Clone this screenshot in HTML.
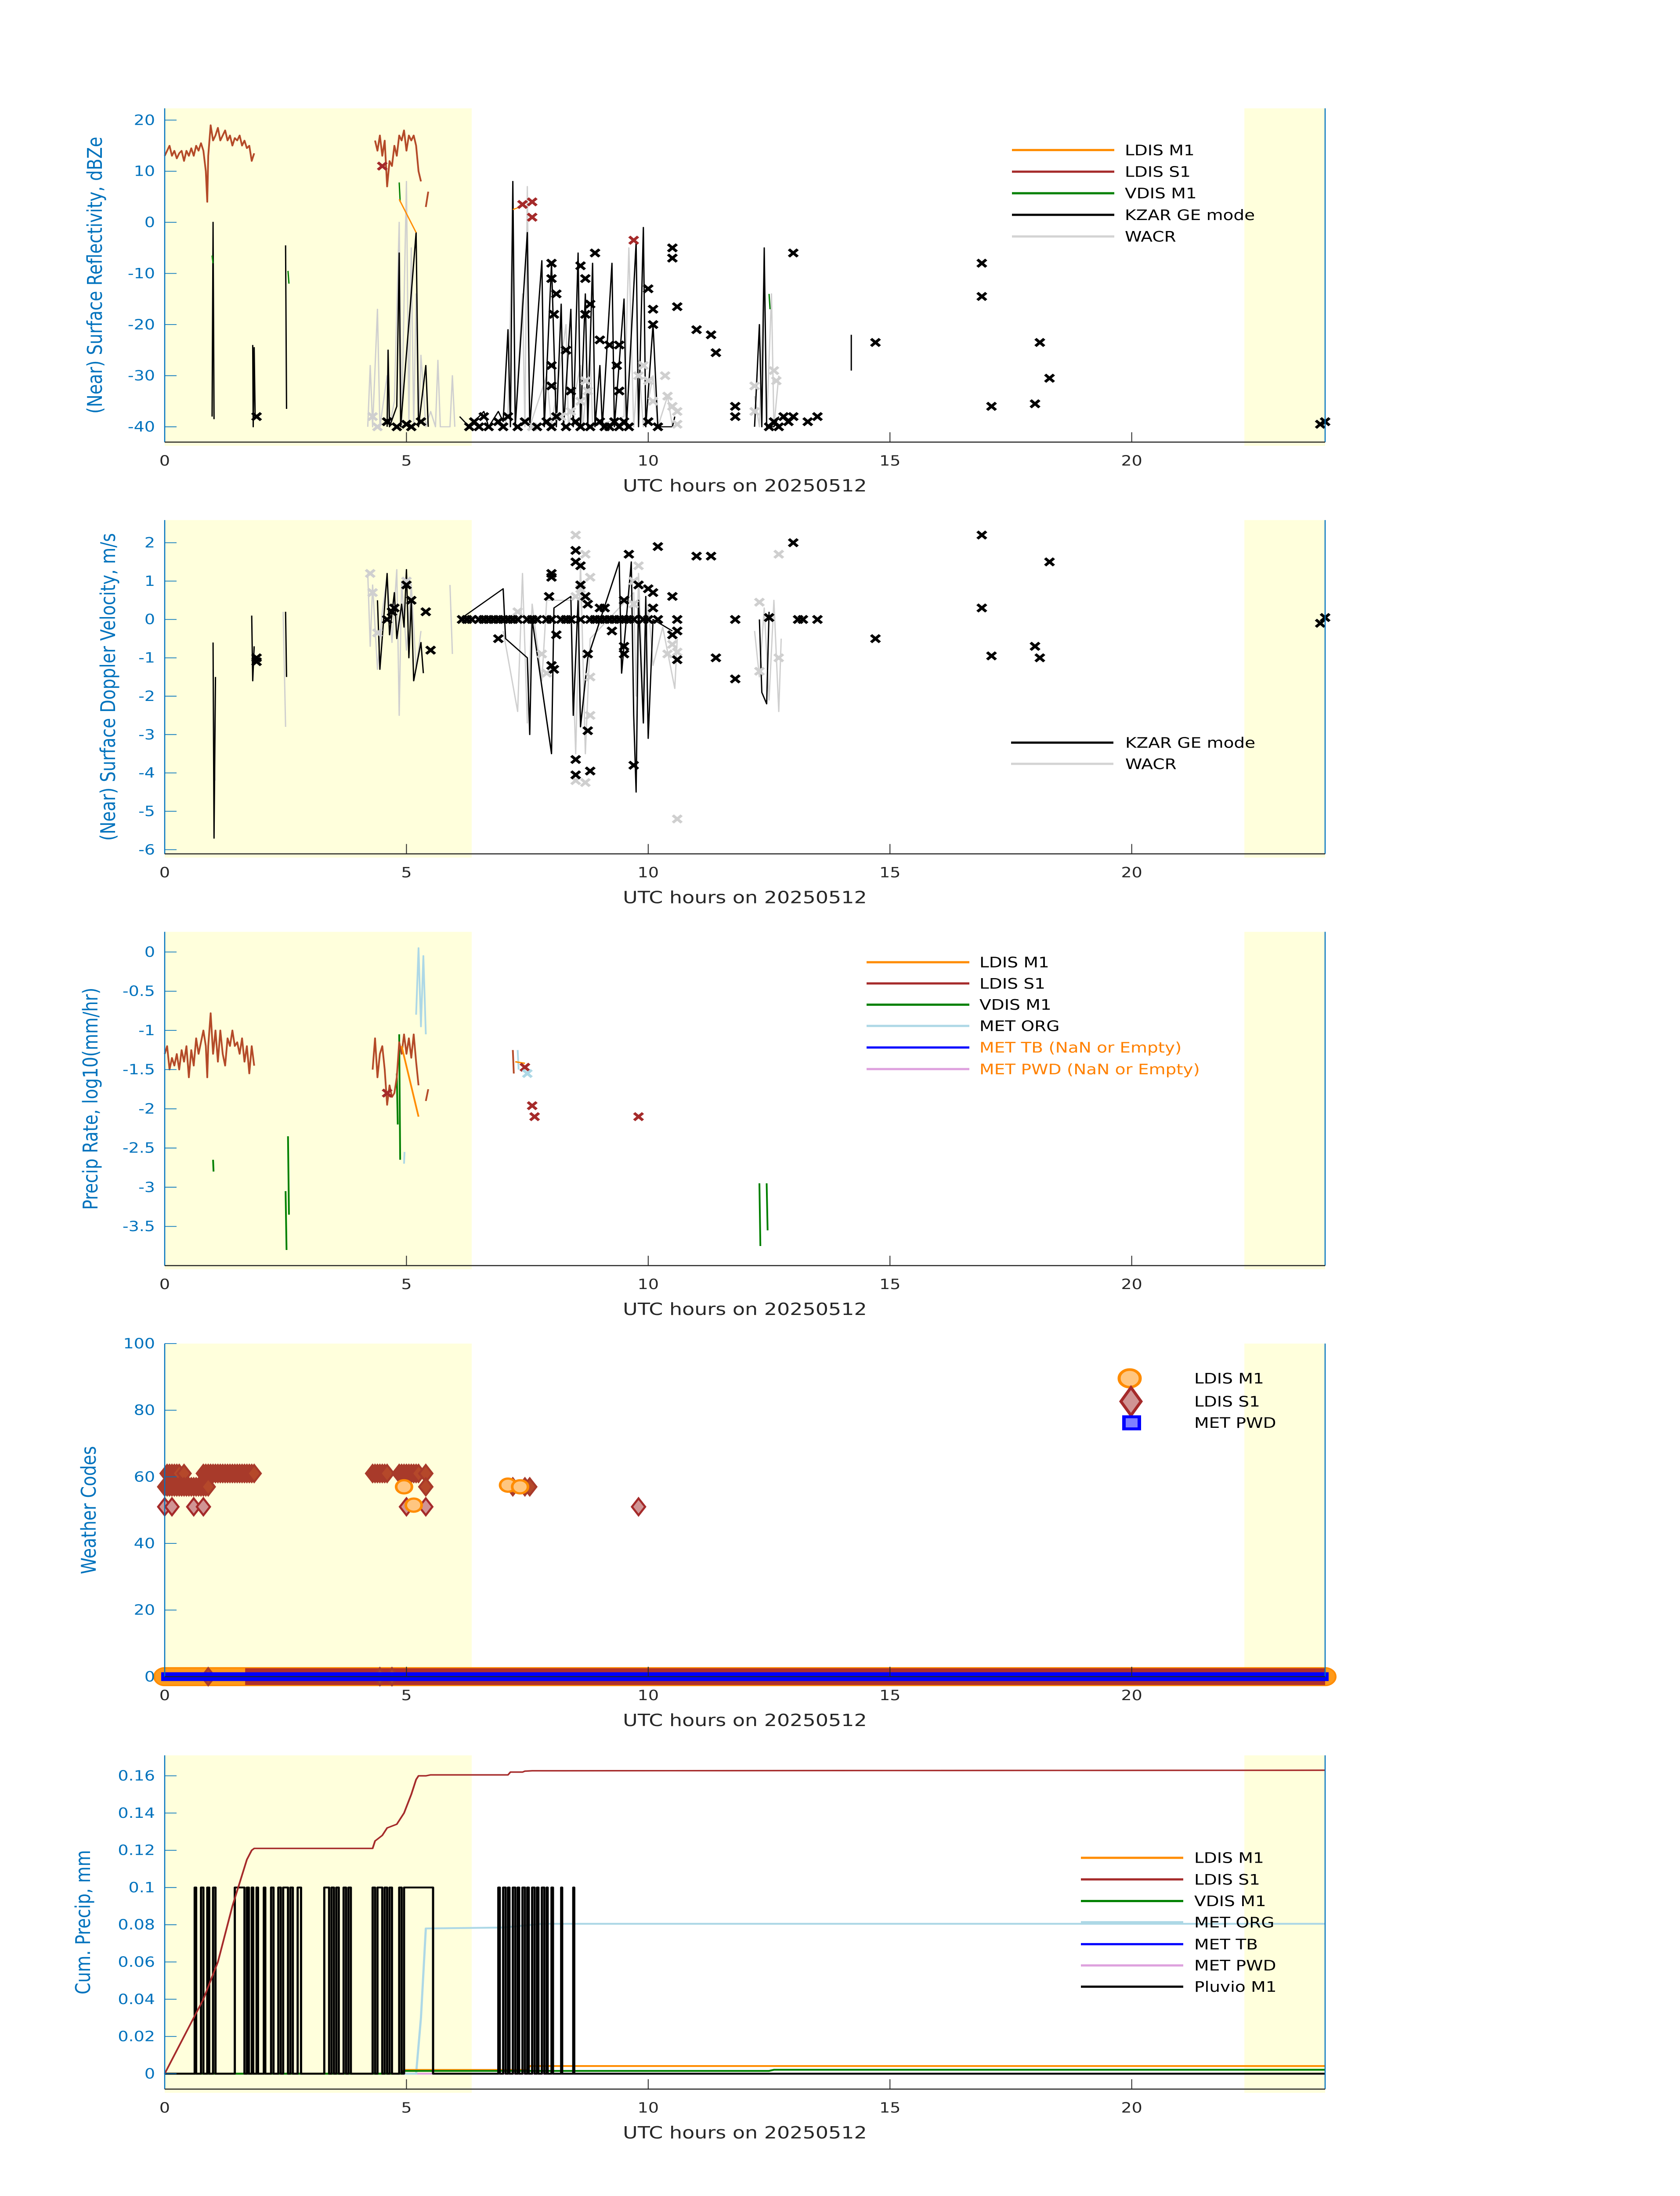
<!DOCTYPE html>
<html><head><meta charset="utf-8"><title>Surface precip summary 20250512</title>
<style>
html,body{margin:0;padding:0;background:#fff;width:100vw;height:100vh;overflow:hidden;}
svg{display:block;position:absolute;left:0;top:0;width:100vw;height:100vh;font-family:"DejaVu Sans","Liberation Sans",sans-serif;}
</style></head>
<body>
<svg id="fig" viewBox="0 0 3825 6000" preserveAspectRatio="none" xmlns="http://www.w3.org/2000/svg"></svg>
<script>
// ---------------- data ----------------
const p1LdisS1 = [[0,13],[0.05,14],[0.1,15],[0.15,13],[0.2,14],[0.25,12.5],[0.3,13.5],[0.35,14],[0.4,12],[0.45,14],[0.5,13],[0.55,14.5],[0.6,13],[0.65,15],[0.7,14],[0.75,15.5],[0.8,14],[0.85,10],[0.88,4],[0.9,13],[0.95,19],[1.0,16],[1.05,17],[1.1,18.5],[1.15,16],[1.2,17],[1.25,18],[1.3,16],[1.35,17],[1.4,15],[1.45,16.5],[1.5,16],[1.55,17],[1.6,15],[1.65,16],[1.7,14.5],[1.75,15],[1.8,12],[1.85,13.5],null,[4.35,16],[4.4,14],[4.45,17],[4.5,13],[4.55,16],[4.6,7],[4.65,12],[4.7,11],[4.75,15],[4.8,13],[4.85,17],[4.9,16],[4.95,18],[5.0,14],[5.05,17],[5.1,16],[5.15,17],[5.2,15],[5.25,10],[5.3,8],null,[5.4,3],[5.45,6]];
const p1LdisM1 = [[4.85,4.5],[5.2,-2],null,[7.2,2.5],[7.35,3]];
const p1Vdis = [[0.98,-6.5],[1.0,-8],null,[2.55,-9.5],[2.57,-12],null,[4.85,7.8],[4.87,4],null,[12.5,-14],[12.52,-17]];
const p1Kzar = [[0.98,-38],[1.0,0],[1.02,-38.5],null,[1.82,-24],[1.83,-40],[1.85,-24.5],[1.87,-38],null,[2.5,-4.5],[2.52,-36.5],null,[4.6,-40],[4.62,-25],[4.65,-40],[4.8,-36],[4.85,-6],[4.88,-40],[5.2,-2],[5.25,-40],[5.4,-28],[5.45,-40],null,[6.1,-38],[6.3,-40],[6.6,-37],[6.7,-40],[6.9,-37],[7.0,-39],[7.1,-21],[7.15,-40],[7.2,8],[7.25,-40],[7.5,-2],[7.55,-40],[7.8,-7.5],[7.85,-40],[8.0,-8],[8.1,-40],[8.2,-16],[8.25,-40],[8.4,-17],[8.45,-40],[8.55,-6],[8.6,-40],[8.7,-14],[8.75,-40],[8.85,-8],[8.9,-40],[9.0,-28],[9.05,-40],[9.25,-8],[9.3,-40],[9.5,-15],[9.55,-40],[9.75,-4],[9.8,-40],[9.9,-1],[9.95,-40],[10.1,-20],[10.2,-40],[10.5,-40],[10.55,-38],null,[12.2,-40],[12.3,-20],[12.35,-40],[12.4,-5],[12.45,-40],[12.6,-40],[12.7,-38],null,[14.2,-22],[14.2,-29]];
const p1Wacr = [[4.2,-40],[4.25,-28],[4.3,-40],[4.4,-17],[4.45,-40],[4.6,-30],[4.65,-40],[4.75,-35],[4.85,0],[4.9,-40],[5.0,8],[5.05,-40],[5.1,-5],[5.15,-40],[5.2,-14],[5.25,-40],[5.3,-26],[5.4,-40],[5.5,-37],[5.6,-40],[5.65,-27],[5.7,-40],[5.9,-40],[5.95,-30],[6.0,-40],null,[7.0,-40],[7.1,-38],[7.2,4],[7.25,-40],[7.4,-14],[7.45,-40],[7.5,7],[7.55,-40],[7.9,-30],[8.0,-40],[8.3,-20],[8.35,-40],[8.6,-28],[8.65,-40],[8.8,-25],[8.85,-40],[9.5,-38],[9.6,-5],[9.7,-40],[9.8,-27],[9.9,-40],[10.1,-30],[10.2,-40],[10.4,-34],[10.5,-40],null,[12.2,-34],[12.3,-40],[12.4,-8],[12.45,-40],[12.55,-14],[12.6,-40],[12.7,-30]];
const p1KzarX = [[1.9,-38],[4.6,-39],[4.8,-40],[5.0,-39.5],[5.1,-40],[5.3,-39],[6.3,-40],[6.4,-39],[6.5,-40],[6.6,-38],[6.7,-40],[6.9,-39],[7.0,-40],[7.1,-38],[7.3,-40],[7.45,-39],[7.7,-40],[7.9,-39],[8.0,-40],[8.1,-38],[8.3,-40],[8.5,-39],[8.6,-40],[8.8,-40],[9.0,-39],[9.1,-40],[9.2,-40],[9.3,-39],[9.4,-40],[9.5,-39],[9.6,-40],[10.0,-39],[10.2,-40],[12.5,-40],[12.6,-39],[12.7,-40],[12.9,-39],[13.0,-38],[13.3,-39],[8.0,-8],[8.0,-11],[8.1,-14],[8.05,-18],[8.0,-28],[8.0,-32],[8.4,-33],[8.3,-25],[8.6,-8.5],[8.7,-11],[8.9,-6],[8.8,-16],[8.7,-18],[9.0,-23],[9.2,-24],[9.4,-24],[9.35,-28],[9.4,-33],[10.0,-13],[10.1,-17],[10.1,-20],[10.5,-5],[10.5,-7],[10.6,-16.5],[11.0,-21],[11.3,-22],[11.4,-25.5],[11.8,-36],[11.8,-38],[13.0,-6],[12.8,-38],[13.5,-38],[14.7,-23.5],[16.9,-8],[16.9,-14.5],[17.1,-36],[18.0,-35.5],[18.1,-23.5],[18.3,-30.5],[23.9,-39.5],[24.0,-39]];
const p1WacrX = [[4.3,-38],[4.4,-40],[7.6,-40],[8.2,-38],[8.4,-37],[8.6,-35],[8.7,-31],[8.75,-33],[9.8,-30],[9.9,-28],[10.0,-31],[10.1,-35],[10.35,-30],[10.4,-34],[10.5,-36],[10.6,-37],[10.6,-39.5],[12.2,-32],[12.2,-37],[12.6,-29],[12.65,-31]];
const p1S1X = [[4.5,11],[7.4,3.5],[7.6,4],[7.6,1],[9.7,-3.5]];

const p2Kzar = [[1.0,-0.6],[1.02,-5.7],[1.05,-1.5],null,[1.8,0.1],[1.82,-1.6],[1.85,-0.7],null,[2.5,0.2],[2.52,-1.5],null,[4.4,0.5],[4.45,-1.3],[4.6,1.2],[4.65,-0.4],[4.75,0.7],[4.8,-0.5],[4.9,0.4],[4.95,-0.2],[5.0,1.3],[5.05,-1.0],[5.1,0.5],[5.15,-1.6],[5.3,-0.6],[5.35,-1.4],null,[6.1,0],[7.0,0.8],[7.05,-0.5],[7.5,-1.0],[7.55,-3.0],[7.6,0],[8.0,-3.5],[8.05,0.3],[8.4,0.6],[8.45,-2.5],[8.55,0.5],[8.6,-2.8],[8.75,-1.0],[9.4,1.5],[9.45,-1.4],[9.65,1.5],[9.7,-2.5],[9.75,-4.5],[9.8,0.5],[9.9,-2.7],[9.95,0.6],[10.0,-3.1],[10.1,0],[10.5,-0.3],null,[12.3,0],[12.35,-1.9],[12.45,-2.2],[12.5,0.2]];
const p2Wacr = [[1.0,-1.3],[1.02,-3.5],[1.04,-4.2],null,[2.45,0.2],[2.5,-2.8],null,[4.2,1.2],[4.25,-0.7],[4.3,0.9],[4.4,-1.3],[4.5,0.2],[4.6,1.1],[4.7,-0.6],[4.8,1.3],[4.85,-2.5],[4.9,1.0],[5.0,-0.8],[5.1,0.9],[5.2,-1.3],[5.3,-0.3],null,[5.9,0.9],[5.95,-0.9],null,[7.0,-0.3],[7.3,-2.4],[7.4,1.2],[7.5,-2.7],[7.6,0.4],[7.8,-1.6],[7.9,0.5],[8.4,0.5],[8.5,-3.5],[8.6,1.5],[8.7,-3.5],[8.8,-0.5],[9.7,0.7],[9.75,-2.0],[9.8,1.2],[9.9,-2.2],[10.0,0.4],[10.1,-1.2],[10.3,-0.2],[10.55,-1.8],[10.6,-0.5],null,[12.2,-0.3],[12.3,-1.5],[12.4,0.3],[12.5,-2.1],[12.6,0.5],[12.7,-2.4],[12.75,-0.5]];
const p2KzarX = [[6.15,0],[6.25,0],[6.35,0],[6.5,0],[6.6,0],[6.7,0],[6.8,0],[6.9,0],[7.0,0],[7.1,0],[7.2,0],[7.3,0],[7.5,0],[7.6,0],[7.7,0],[7.9,0],[8.0,0],[8.2,0],[8.3,0],[8.4,0],[8.6,0],[8.8,0],[8.9,0],[9.0,0],[9.1,0],[9.2,0],[9.3,0],[9.4,0],[9.5,0],[9.6,0],[9.7,0],[9.9,0],[10.0,0],[10.2,0],[1.9,-1.0],[1.9,-1.1],[4.6,0.0],[4.7,0.2],[4.75,0.3],[5.0,0.9],[5.1,0.5],[5.4,0.2],[5.5,-0.8],[6.9,-0.5],[8.0,1.2],[8.0,1.1],[7.95,0.6],[8.05,-1.3],[8.0,-1.2],[8.1,-0.4],[8.5,1.8],[8.5,1.5],[8.6,1.4],[8.6,0.9],[8.7,0.6],[8.75,0.4],[8.75,-0.9],[8.75,-2.9],[8.5,-3.65],[8.5,-4.05],[8.8,-3.95],[9.0,0.3],[9.1,0.3],[9.25,-0.3],[9.5,0.5],[9.6,1.7],[9.5,-0.9],[9.5,-0.7],[9.7,-3.8],[9.8,0.9],[10.0,0.8],[10.1,0.7],[10.2,1.9],[10.1,0.3],[10.5,0.6],[10.5,-0.4],[10.6,-1.05],[10.6,-0.3],[10.6,0],[11.0,1.65],[11.3,1.65],[11.4,-1.0],[11.8,0],[11.8,-1.55],[12.5,0.05],[13.0,2.0],[13.1,0],[13.2,0],[13.5,0],[14.7,-0.5],[16.9,2.2],[16.9,0.3],[17.1,-0.95],[18.0,-0.7],[18.1,-1.0],[18.3,1.5],[23.9,-0.1],[24.0,0.05]];
const p2WacrX = [[4.25,1.2],[4.3,0.7],[4.4,-0.35],[5.0,1.0],[8.5,2.2],[8.5,0.6],[8.6,0.8],[8.7,1.7],[8.8,1.1],[8.8,-1.5],[8.8,-2.5],[8.5,-4.2],[8.7,-4.25],[9.8,1.4],[9.7,1.0],[9.7,0.4],[10.4,-0.9],[10.5,-0.65],[10.6,-0.85],[10.6,-5.2],[12.3,0.45],[12.3,-1.35],[12.7,1.7],[12.7,-1.0],[7.3,0.2],[7.8,-0.9],[7.9,-1.4]];

const p3LdisS1 = [[0,-1.3],[0.05,-1.2],[0.1,-1.5],[0.15,-1.35],[0.2,-1.45],[0.25,-1.3],[0.3,-1.5],[0.35,-1.25],[0.4,-1.4],[0.45,-1.2],[0.5,-1.6],[0.55,-1.25],[0.6,-1.45],[0.65,-1.1],[0.7,-1.3],[0.75,-1.15],[0.8,-1.0],[0.85,-1.2],[0.88,-1.6],[0.9,-1.2],[0.95,-0.78],[1.0,-1.3],[1.05,-1.0],[1.1,-1.4],[1.15,-1.0],[1.2,-1.3],[1.25,-1.45],[1.3,-1.1],[1.35,-1.2],[1.4,-1.0],[1.45,-1.2],[1.5,-1.15],[1.55,-1.3],[1.6,-1.1],[1.65,-1.4],[1.7,-1.2],[1.75,-1.55],[1.8,-1.2],[1.85,-1.45],null,[4.3,-1.5],[4.35,-1.1],[4.4,-1.6],[4.45,-1.3],[4.5,-1.2],[4.55,-1.5],[4.6,-1.95],[4.65,-1.7],[4.7,-1.85],[4.75,-1.8],[4.8,-1.6],[4.85,-1.15],[4.9,-1.3],[4.95,-1.05],[5.0,-1.3],[5.05,-1.1],[5.1,-1.35],[5.15,-1.05],[5.2,-1.4],[5.25,-1.7],null,[5.4,-1.9],[5.45,-1.75],null,[7.2,-1.25],[7.22,-1.55]];
const p3LdisM1 = [[4.9,-1.2],[5.25,-2.1],null,[7.25,-1.4],[7.45,-1.42]];
const p3Vdis = [[1.0,-2.65],[1.01,-2.8],null,[2.5,-3.05],[2.52,-3.8],null,[2.55,-2.35],[2.57,-3.35],null,[4.8,-1.55],[4.82,-2.2],null,[4.85,-1.05],[4.87,-2.65],null,[12.3,-2.95],[12.32,-3.75],null,[12.45,-2.95],[12.47,-3.55]];
const p3MetOrg = [[4.95,-2.7],[4.96,-2.55],null,[5.2,-0.8],[5.25,0.05],[5.3,-0.95],[5.35,-0.05],[5.4,-1.05],null,[7.3,-1.25],[7.32,-1.5]];
const p3S1X = [[4.6,-1.8],[7.45,-1.47],[7.6,-1.96],[7.65,-2.1],[9.8,-2.1]];
const p3OrgX = [[7.5,-1.55]];

const p4S1Times61 = [0.05,0.1,0.15,0.2,0.25,0.3,0.4,0.8,0.85,0.9,0.95,1.0,1.05,1.1,1.15,1.2,1.25,1.3,1.35,1.4,1.45,1.5,1.55,1.6,1.65,1.7,1.75,1.8,1.85,4.3,4.35,4.4,4.45,4.5,4.55,4.6,4.85,4.9,4.95,5.0,5.05,5.1,5.15,5.2,5.25,5.4];
const p4S1Times57 = [0,0.05,0.1,0.15,0.2,0.25,0.3,0.35,0.4,0.45,0.5,0.55,0.6,0.65,0.7,0.75,0.8,0.85,0.9,5.4,7.2,7.45,7.55];
const p4S1Times51 = [0,0.15,0.6,0.8,5.0,5.4,9.8];
const p4M1Pts = [[4.95,57],[5.15,51.5],[7.1,57.5],[7.35,57]];

const p5LdisS1 = [[0,0],[0.2,0.01],[0.5,0.025],[0.8,0.04],[1.1,0.06],[1.4,0.09],[1.7,0.115],[1.8,0.12],[1.85,0.121],[4.3,0.121],[4.35,0.125],[4.5,0.128],[4.6,0.132],[4.7,0.133],[4.8,0.134],[4.95,0.14],[5.1,0.15],[5.2,0.158],[5.25,0.16],[5.4,0.16],[5.5,0.1605],[7.1,0.1605],[7.15,0.162],[7.4,0.162],[7.45,0.1625],[7.6,0.1627],[24,0.163]];
const p5MetOrg = [[0,0],[5.2,0],[5.3,0.03],[5.4,0.078],[7,0.0785],[7.8,0.0805],[24,0.0805]];
const p5LdisM1 = [[0,0],[4.9,0],[4.95,0.002],[7.5,0.002],[7.55,0.0041],[24,0.0041]];
const p5Vdis = [[0,0],[4.9,0],[4.95,0.0015],[12.5,0.0015],[12.6,0.0021],[24,0.0021]];
const p5MetPwd = [[0,0],[24,0]];
const p5PluvioOn = [[0.62,0.65],[0.75,0.8],[0.88,0.92],[1.0,1.05],[1.45,1.65],[1.7,1.74],[1.8,1.83],[1.9,1.93],[2.05,2.08],[2.2,2.25],[2.35,2.4],[2.45,2.55],[2.6,2.65],[2.75,2.82],[3.3,3.4],[3.45,3.5],[3.55,3.6],[3.7,3.75],[3.8,3.85],[4.3,4.35],[4.4,4.5],[4.55,4.6],[4.65,4.7],[4.85,4.9],[4.95,5.55],[6.9,6.93],[7.0,7.05],[7.1,7.13],[7.2,7.25],[7.3,7.33],[7.4,7.45],[7.5,7.53],[7.6,7.65],[7.7,7.73],[7.8,7.85],[7.9,7.92],[8.0,8.03],[8.2,8.22],[8.45,8.47]];
const p5PluvioHigh = 0.1;

const xTicks = [0,5,10,15,20];
const p1Ticks = [-40,-30,-20,-10,0,10,20];
const p2Ticks = [-6,-5,-4,-3,-2,-1,0,1,2];
const p3Ticks = [-3.5,-3,-2.5,-2,-1.5,-1,-0.5,0];
const p4Ticks = [0,20,40,60,80,100];
const p5Ticks = [0,0.02,0.04,0.06,0.08,0.1,0.12,0.14,0.16];

// ---------------- drawing ----------------
const NS = 'http://www.w3.org/2000/svg';
const svg = document.getElementById('fig');
const XL = 375, XR = 3017, TMAX = 24;
function X(t){ return XL + t*(XR-XL)/TMAX; }
function mk(parent, tag, attrs, name, inter){
  const el = document.createElementNS(NS, tag);
  for (const k in attrs) el.setAttribute(k, attrs[k]);
  
  
  parent.appendChild(el);
  return el;
}
function txt(parent, x, y, s, attrs, name){
  const el = mk(parent, 'text', Object.assign({x:x, y:y}, attrs), name, false);
  el.textContent = s;
  return el;
}
function mkY(top, bot, lo, hi){ return v => bot - (v-lo)*(bot-top)/(hi-lo); }
function pathOf(pts, Y){
  let d = '', pen = false;
  for (const p of pts){
    if (!p){ pen = false; continue; }
    d += (pen ? 'L' : 'M') + X(p[0]).toFixed(1) + ' ' + Y(p[1]).toFixed(1);
    pen = true;
  }
  return d;
}
function line(g, pts, Y, color, w, name){
  return mk(g, 'path', {d: pathOf(pts, Y), fill:'none', stroke:color, 'stroke-width':w, 'stroke-linejoin':'round'}, name, false);
}
function xmark(g, x, y, color, name){
  const s = 10;
  return mk(g, 'path', {d:`M${x-s} ${y-s}L${x+s} ${y+s}M${x-s} ${y+s}L${x+s} ${y-s}`, stroke:color, 'stroke-width':7, fill:'none'}, name, false);
}
function panel(idx, top, bot, lo, hi, ticks, fmt, ylabel, ylabx){
  const g = mk(svg, 'g', {}, 'panel-'+idx, false);
  const Y = mkY(top, bot, lo, hi);
  mk(g, 'rect', {x:XL, y:top, width:X(6.35)-XL, height:bot-top+10, fill:'#FFFFDC'}, 'night-shading-left', false);
  mk(g, 'rect', {x:X(22.33), y:top, width:XR-X(22.33), height:bot-top+10, fill:'#FFFFDC'}, 'night-shading-right', false);
  return {g, Y, top, bot, lo, hi, ticks, fmt, ylabel, ylabx, idx};
}
function axes(P){
  const g = mk(svg, 'g', {}, 'axes-'+P.idx, false);
  for (const t of xTicks){
    mk(g, 'line', {x1:X(t), x2:X(t), y1:P.bot, y2:P.bot-27, stroke:'#262626', 'stroke-width':2}, 'x-tick', false);
    txt(g, X(t), P.bot+64, String(t), {'font-size':38, 'text-anchor':'middle', fill:'#262626'}, 'x-tick-label');
  }
  for (const v of P.ticks){
    const y = P.Y(v);
    mk(g, 'line', {x1:XL, x2:XL+27, y1:y, y2:y, stroke:'#0072BD', 'stroke-width':2}, 'y-tick', false);
    txt(g, XL-22, y+13, P.fmt(v), {'font-size':38, 'text-anchor':'end', fill:'#0072BD'}, 'y-tick-label');
  }
  mk(g, 'line', {x1:XL, x2:XL, y1:P.top, y2:P.bot, stroke:'#0072BD', 'stroke-width':2.5}, 'y-axis-line', false);
  mk(g, 'line', {x1:XR, x2:XR, y1:P.top, y2:P.bot, stroke:'#0072BD', 'stroke-width':2.5}, 'y-axis-right-line', false);
  mk(g, 'line', {x1:XL, x2:XR, y1:P.bot, y2:P.bot, stroke:'#262626', 'stroke-width':3}, 'x-axis-line', false);
  txt(g, (XL+XR)/2, P.bot+135, 'UTC hours on 20250512', {'font-size':46, 'text-anchor':'middle', fill:'#262626'}, 'x-axis-title');
  const cy = (P.top+P.bot)/2;
  txt(g, P.ylabx, cy, P.ylabel, {'font-size':46, 'text-anchor':'middle', fill:'#0072BD', transform:`rotate(-90 ${P.ylabx} ${cy})`}, 'y-axis-title');
}
function legendLines(g, x1, x2, tx, items){
  for (const it of items){
    mk(g, 'line', {x1:x1, x2:x2, y1:it[2], y2:it[2], stroke:it[1], 'stroke-width':6}, 'legend-line', false);
    txt(g, tx, it[2]+14, it[0], {'font-size':39, fill:it[3]||'#000'}, 'legend-entry');
  }
}
const num = v => String(v);

{
  const P = panel(1, 296, 1208, -43, 22.3, p1Ticks, num, '(Near) Surface Reflectivity, dBZe', 232);
  const g = P.g, Y = P.Y;
  line(g, p1Wacr, Y, '#CFCFCF', 3, 'wacr-line');
  line(g, p1Kzar, Y, '#000', 3, 'kzar-line');
  line(g, p1Vdis, Y, '#008000', 3, 'vdis-m1-line');
  line(g, p1LdisS1, Y, '#B44A28', 4, 'ldis-s1-line');
  line(g, p1LdisM1, Y, '#FF8C00', 3, 'ldis-m1-line');
  for (const p of p1WacrX) xmark(g, X(p[0]), Y(p[1]), '#CFCFCF', 'wacr-marker');
  for (const p of p1KzarX) xmark(g, X(p[0]), Y(p[1]), '#000', 'kzar-marker');
  for (const p of p1S1X) xmark(g, X(p[0]), Y(p[1]), '#A52A2A', 'ldis-s1-marker');
  axes(P);
  legendLines(g, 2304, 2537, 2561, [['LDIS M1','#FF8C00',410],['LDIS S1','#A52A2A',469],['VDIS M1','#008000',528],['KZAR GE mode','#000',587],['WACR','#D3D3D3',646]]);
}
{
  const P = panel(2, 1421, 2333, -6.11, 2.59, p2Ticks, num, '(Near) Surface Doppler Velocity, m/s', 262);
  const g = P.g, Y = P.Y;
  line(g, p2Wacr, Y, '#CFCFCF', 3, 'wacr-line');
  line(g, p2Kzar, Y, '#000', 3, 'kzar-line');
  for (const p of p2WacrX) xmark(g, X(p[0]), Y(p[1]), '#CFCFCF', 'wacr-marker');
  for (const p of p2KzarX) xmark(g, X(p[0]), Y(p[1]), '#000', 'kzar-marker');
  axes(P);
  legendLines(g, 2302, 2535, 2562, [['KZAR GE mode','#000',2029],['WACR','#D3D3D3',2087]]);
}
{
  const P = panel(3, 2546, 3458, -4.0, 0.257, p3Ticks, num, 'Precip Rate, log10(mm/hr)', 222);
  const g = P.g, Y = P.Y;
  line(g, p3MetOrg, Y, '#ADD8E6', 4, 'met-org-line');
  line(g, p3Vdis, Y, '#008000', 4, 'vdis-m1-line');
  line(g, p3LdisS1, Y, '#B44A28', 4, 'ldis-s1-line');
  line(g, p3LdisM1, Y, '#FF8C00', 4, 'ldis-m1-line');
  for (const p of p3S1X) xmark(g, X(p[0]), Y(p[1]), '#A52A2A', 'ldis-s1-marker');
  for (const p of p3OrgX) xmark(g, X(p[0]), Y(p[1]), '#ADD8E6', 'met-org-marker');
  axes(P);
  legendLines(g, 1973, 2207, 2230, [['LDIS M1','#FF8C00',2629],['LDIS S1','#A52A2A',2687],['VDIS M1','#008000',2745],['MET ORG','#ADD8E6',2803],['MET TB (NaN or Empty)','#0000FF',2862,'#FF8000'],['MET PWD (NaN or Empty)','#DDA0DD',2921,'#FF8000']]);
}
function diamond(g, x, y, name){
  return mk(g, 'path', {d:`M${x} ${y-23}L${x+15} ${y}L${x} ${y+23}L${x-15} ${y}Z`, fill:'#B5482A', stroke:'#A83A2A', 'stroke-width':5}, name, false);
}
function diamondLight(g, x, y, name){
  return mk(g, 'path', {d:`M${x} ${y-23}L${x+15} ${y}L${x} ${y+23}L${x-15} ${y}Z`, fill:'#D09494', stroke:'#A52A2A', 'stroke-width':5}, name, false);
}
function circ(g, x, y, name){
  return mk(g, 'ellipse', {cx:x, cy:y, rx:18, ry:18, fill:'#FFC680', stroke:'#FF8C00', 'stroke-width':6}, name, false);
}
{
  const P = panel(4, 3671, 4581, 0, 100, p4Ticks, num, 'Weather Codes', 218);
  const g = P.g, Y = P.Y;
  mk(g, 'rect', {x:X(0)-24, y:Y(0)-24, width:X(24)-X(0)+48, height:48, rx:24, fill:'#FF9A1A', stroke:'#FF8C00', 'stroke-width':4}, 'ldis-m1-zero-band', false);
  mk(g, 'rect', {x:X(1.8)-15, y:Y(0)-23, width:X(24)-X(1.8)+15, height:46, fill:'#B0302A'}, 'ldis-s1-zero-band', false);
  for (const t of [0.9,4.45,4.7]) diamond(g, X(t), Y(0), 'ldis-s1-zero-marker');
  mk(g, 'rect', {x:X(0)-8, y:Y(0)-12, width:X(24)-X(0)+16, height:24, fill:'#0000FF'}, 'met-pwd-zero-band', false);
  for (const t of p4S1Times61) diamond(g, X(t), Y(61), 'ldis-s1-marker');
  for (const t of p4S1Times57) diamond(g, X(t), Y(57), 'ldis-s1-marker');
  for (const t of p4S1Times51) diamondLight(g, X(t), Y(51), 'ldis-s1-marker');
  for (const p of p4M1Pts) circ(g, X(p[0]), Y(p[1]), 'ldis-m1-marker');
  axes(P);
  mk(g, 'ellipse', {cx:2572, cy:3766, rx:24, ry:24, fill:'#FFC680', stroke:'#FF8C00', 'stroke-width':7}, 'legend-marker', false);
  txt(g, 2719, 3780, 'LDIS M1', {'font-size':39}, 'legend-entry');
  mk(g, 'path', {d:'M2575 3791L2598 3829L2575 3867L2552 3829Z', fill:'#D09494', stroke:'#A52A2A', 'stroke-width':7}, 'legend-marker', false);
  txt(g, 2719, 3843, 'LDIS S1', {'font-size':39}, 'legend-entry');
  mk(g, 'rect', {x:2559, y:3871, width:35, height:33, fill:'#8080FF', stroke:'#0000FF', 'stroke-width':8}, 'legend-marker', false);
  txt(g, 2719, 3901, 'MET PWD', {'font-size':39}, 'legend-entry');
}
{
  const P = panel(5, 4796, 5708, -0.0083, 0.171, p5Ticks, num, 'Cum. Precip, mm', 205);
  const g = P.g, Y = P.Y;
  const pluv = [[0,0]];
  for (const iv of p5PluvioOn){ pluv.push([iv[0],0],[iv[0],p5PluvioHigh],[iv[1],p5PluvioHigh],[iv[1],0]); }
  pluv.push([24,0]);
  line(g, p5MetPwd, Y, '#DDA0DD', 5, 'met-pwd-line');
  line(g, p5MetOrg, Y, '#ADD8E6', 5, 'met-org-line');
  line(g, p5LdisM1, Y, '#FF8C00', 5, 'ldis-m1-line');
  line(g, p5Vdis, Y, '#008000', 5, 'vdis-m1-line');
  line(g, pluv, Y, '#000', 5, 'pluvio-m1-line');
  line(g, p5LdisS1, Y, '#A52A2A', 4, 'ldis-s1-line');
  axes(P);
  legendLines(g, 2461, 2694, 2719, [['LDIS M1','#FF8C00',5076],['LDIS S1','#A52A2A',5135],['VDIS M1','#008000',5194],['MET ORG','#ADD8E6',5252],['MET TB','#0000FF',5312],['MET PWD','#DDA0DD',5370],['Pluvio M1','#000',5428]]);
}
</script>
</body></html>
